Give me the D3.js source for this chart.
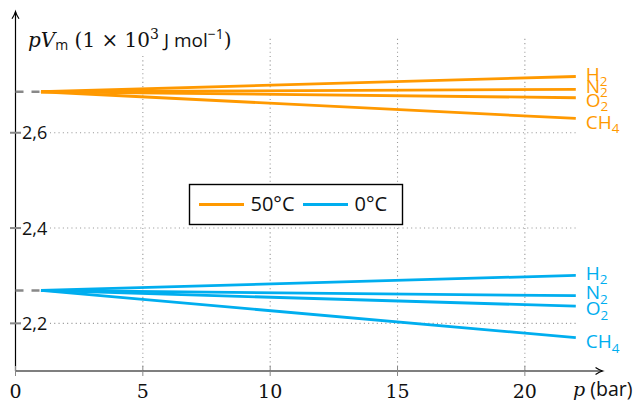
<!DOCTYPE html>
<html><head><meta charset="utf-8">
<script src="https://cdn.jsdelivr.net/npm/d3@7/dist/d3.min.js"></script>
<style>body{margin:0;background:#fff}svg{display:block}</style>
</head><body>
<svg id="chart" width="636" height="401"></svg>
<script>
// ---- data ----
const pressures = [1, 22];                 // bar
const gasNames = ["H", "N", "O", "CH"];
const gasSubs = ["2", "2", "2", "4"];
const h2_50 = [2.686, 2.718];
const n2_50 = [2.686, 2.691];
const o2_50 = [2.686, 2.6735];
const ch4_50 = [2.686, 2.630];
const h2_0 = [2.269, 2.3007];
const n2_0 = [2.269, 2.258];
const o2_0 = [2.269, 2.236];
const ch4_0 = [2.269, 2.170];
const temps = ["50°C", "0°C"];
const xTicks = [0, 5, 10, 15, 20];
const yTicks = [2.2, 2.4, 2.6];
const yTickLabels = ["2,2", "2,4", "2,6"];

const series50 = [h2_50, n2_50, o2_50, ch4_50];
const series0 = [h2_0, n2_0, o2_0, ch4_0];
const colors = ["#ff9900", "#00aeef"];

const svg = d3.select("#chart");
const x = d3.scaleLinear().domain([0, 22]).range([15.5, 575.8]);
const y = d3.scaleLinear().domain([2.1, 2.8]).range([371, 37.45]);
const SANS = "'Open Sans', sans-serif";
const SERIF = "'DejaVu Serif', serif";

// grid
const grid = svg.append("g").attr("stroke", "#9a9a9a").attr("stroke-width", 1.1)
  .attr("stroke-dasharray", "1.1,3.2");
xTicks.filter(d => d > 0).forEach(d => {
  grid.append("line").attr("x1", x(d)).attr("x2", x(d)).attr("y1", y(2.1)).attr("y2", y(2.8));
});
yTicks.forEach(d => {
  grid.append("line").attr("x1", x(0)).attr("x2", x(22)).attr("y1", y(d)).attr("y2", y(d));
});

// axes
const ax = svg.append("g");
ax.append("line").attr("x1", x(0)).attr("x2", x(23.05)).attr("y1", y(2.1)).attr("y2", y(2.1))
  .attr("stroke", "#000").attr("stroke-width", 1.2);
ax.append("line").attr("x1", x(0)).attr("x2", x(0)).attr("y1", y(2.1)).attr("y2", y(2.854))
  .attr("stroke", "#000").attr("stroke-width", 1.2);
// arrowheads
const xe = x(23.05), ye = y(2.854);
ax.append("path").attr("d", `M${xe-7},${y(2.1)-3.5} Q${xe-3},${y(2.1)-0.8} ${xe},${y(2.1)} Q${xe-3},${y(2.1)+0.8} ${xe-7},${y(2.1)+3.5}`)
  .attr("fill", "none").attr("stroke", "#000").attr("stroke-width", 1.2);
ax.append("path").attr("d", `M${x(0)-3.5},${ye+7} Q${x(0)-0.8},${ye+3} ${x(0)},${ye} Q${x(0)+0.8},${ye+3} ${x(0)+3.5},${ye+7}`)
  .attr("fill", "none").attr("stroke", "#000").attr("stroke-width", 1.2);

// x ticks
xTicks.forEach(d => {
  ax.append("line").attr("x1", x(d)).attr("x2", x(d)).attr("y1", y(2.1) - 5).attr("y2", y(2.1) + 5)
    .attr("stroke", "#888").attr("stroke-width", 1);
  ax.append("text").attr("x", x(d)).attr("y", 398).attr("text-anchor", "middle")
    .attr("font-family", SERIF).attr("font-size", 19).attr("fill", "#111").text(d);
});
// y ticks with white-backed labels
yTicks.forEach((d, i) => {
  ax.append("line").attr("x1", x(0) - 5.5).attr("x2", x(0) + 5.5).attr("y1", y(d)).attr("y2", y(d))
    .attr("stroke", "#888").attr("stroke-width", 2);
  const t = ax.append("text").attr("x", x(0) + 6.5).attr("y", y(d) + 6.6)
    .attr("font-family", SANS).attr("font-size", 18).attr("fill", "#111").text(yTickLabels[i]);
  const b = t.node().getBBox();
  ax.insert("rect", "text").attr("x", b.x - 0.5).attr("y", b.y).attr("width", b.width + 3).attr("height", b.height).attr("fill", "#fff");
});

// axis labels
const xl = svg.append("text").attr("x", 573).attr("y", 396).attr("font-size", 19).attr("fill", "#111");
xl.append("tspan").attr("font-family", SERIF).attr("font-style", "italic").text("p");
xl.append("tspan").attr("font-family", SANS).attr("font-size", 19.5).text(" (bar)");

const ylg = svg.append("g");
const yl = ylg.append("text").attr("x", 28).attr("y", 46.5).attr("font-size", 20).attr("fill", "#111");
yl.append("tspan").attr("font-family", SERIF).attr("font-style", "italic").text("pV");
yl.append("tspan").attr("font-family", SANS).attr("font-size", 14).attr("dy", 3.5).text("m");
yl.append("tspan").attr("font-family", SERIF).attr("dy", -3.5).text(" (1 × 10");
yl.append("tspan").attr("font-family", SERIF).attr("font-size", 14).attr("dy", -8).text("3");
yl.append("tspan").attr("font-family", SANS).attr("font-size", 19).attr("dy", 8).text(" J mol");
yl.append("tspan").attr("font-family", SANS).attr("font-size", 14).attr("dy", -8).text("−1");
yl.append("tspan").attr("font-family", SERIF).attr("dy", 8).text(")");
const yb = yl.node().getBBox();
ylg.insert("rect", "text").attr("x", yb.x - 2).attr("y", yb.y).attr("width", yb.width + 4).attr("height", yb.height).attr("fill", "#fff");

// series
const line = d3.line().x((d, i) => x(pressures[i])).y(d => y(d));
const labelDy = [4.5, 3.5, 9, 10.5];
[series50, series0].forEach((group, gi) => {
  const g = svg.append("g");
  // dashed start marker
  g.append("line").attr("x1", x(0)).attr("x2", x(pressures[0]))
    .attr("y1", y(group[0][0])).attr("y2", y(group[0][0]))
    .attr("stroke", "#888").attr("stroke-width", 2.5).attr("stroke-dasharray", "8,8");
  group.forEach((vals, si) => {
    g.append("path").attr("d", line(vals)).attr("fill", "none")
      .attr("stroke", colors[gi]).attr("stroke-width", 2.8);
    const t = g.append("text").attr("x", x(pressures[1]) + 10)
      .attr("y", y(vals[1]) + labelDy[si])
      .attr("font-family", SANS).attr("font-size", 19).attr("fill", colors[gi]);
    t.append("tspan").text(gasNames[si]);
    t.append("tspan").attr("font-size", 13.5).attr("dy", 4.5).text(gasSubs[si]);
  });
});

// legend
const lg = svg.append("g");
lg.append("rect").attr("x", 189.5).attr("y", 184.5).attr("width", 213).attr("height", 40)
  .attr("fill", "#fff").attr("stroke", "#000").attr("stroke-width", 1.4);
const legX = [199, 303];
temps.forEach((t, i) => {
  lg.append("line").attr("x1", legX[i]).attr("x2", legX[i] + 45).attr("y1", 204.5).attr("y2", 204.5)
    .attr("stroke", colors[i]).attr("stroke-width", 2.8);
  lg.append("text").attr("x", legX[i] + 51.5).attr("y", 211).attr("font-family", SANS)
    .attr("font-size", 20).attr("fill", "#111").text(t);
});
</script>
</body></html>
